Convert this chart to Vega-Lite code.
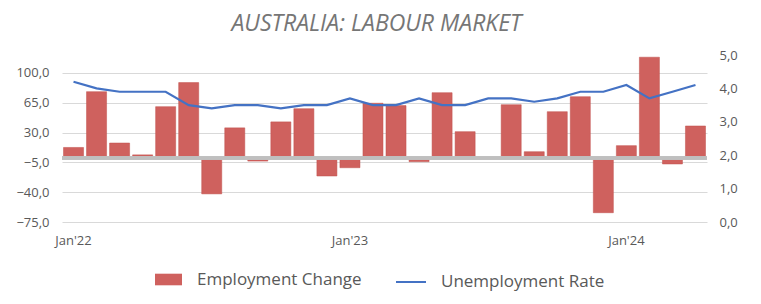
{
  "$schema": "https://vega.github.io/schema/vega-lite/v6.json",
  "width": 645,
  "height": 167,
  "autosize": {"type": "none"},
  "padding": {"left": 62, "top": 55, "right": 54, "bottom": 82},
  "config": {
    "locale": {"number": {"decimal": ",", "thousands": ".", "grouping": [3], "currency": ["", ""]}},
    "view": {"stroke": null},
    "font": "Open Sans",
    "axis": {"labelColor": "#595959", "labelFontSize": 13, "labelFont": "Open Sans", "domain": false, "ticks": false, "title": null, "labelOverlap": false}
  },
  "title": {
    "text": "AUSTRALIA: LABOUR MARKET",
    "font": "Open Sans",
    "fontStyle": "italic",
    "fontWeight": "normal",
    "fontSize": 23,
    "color": "#767676",
    "anchor": "middle",
    "dx": -8,
    "offset": 13
  },
  "data": {
    "values": [
      {"m": "Jan'22", "emp": 12.5, "ur": 4.2},
      {"m": "Feb'22", "emp": 78.0, "ur": 4.0},
      {"m": "Mar'22", "emp": 17.7, "ur": 3.9},
      {"m": "Apr'22", "emp": 3.8, "ur": 3.9},
      {"m": "May'22", "emp": 60.4, "ur": 3.9},
      {"m": "Jun'22", "emp": 88.6, "ur": 3.5},
      {"m": "Jul'22", "emp": -42.0, "ur": 3.4},
      {"m": "Aug'22", "emp": 35.5, "ur": 3.5},
      {"m": "Sep'22", "emp": -3.5, "ur": 3.5},
      {"m": "Oct'22", "emp": 42.5, "ur": 3.4},
      {"m": "Nov'22", "emp": 58.0, "ur": 3.5},
      {"m": "Dec'22", "emp": -21.0, "ur": 3.5},
      {"m": "Jan'23", "emp": -11.3, "ur": 3.7},
      {"m": "Feb'23", "emp": 64.4, "ur": 3.5},
      {"m": "Mar'23", "emp": 61.6, "ur": 3.5},
      {"m": "Apr'23", "emp": -4.2, "ur": 3.7},
      {"m": "May'23", "emp": 76.8, "ur": 3.5},
      {"m": "Jun'23", "emp": 31.0, "ur": 3.5},
      {"m": "Jul'23", "emp": 0.0, "ur": 3.7},
      {"m": "Aug'23", "emp": 62.7, "ur": 3.7},
      {"m": "Sep'23", "emp": 7.5, "ur": 3.6},
      {"m": "Oct'23", "emp": 54.5, "ur": 3.7},
      {"m": "Nov'23", "emp": 72.1, "ur": 3.9},
      {"m": "Dec'23", "emp": -64.1, "ur": 3.9},
      {"m": "Jan'24", "emp": 14.6, "ur": 4.1},
      {"m": "Feb'24", "emp": 118.4, "ur": 3.7},
      {"m": "Mar'24", "emp": -6.9, "ur": 3.9},
      {"m": "Apr'24", "emp": 37.7, "ur": 4.1}
    ]
  },
  "encoding": {
    "x": {
      "field": "m",
      "type": "ordinal",
      "sort": null,
      "scale": {"paddingInner": 0.13, "paddingOuter": 0.065},
      "axis": {"values": ["Jan'22", "Jan'23", "Jan'24"], "labelAngle": 0, "labelPadding": 12, "grid": false}
    }
  },
  "layer": [
    {
      "layer": [
        {
          "mark": {"type": "bar", "stroke": "#c0504d", "strokeWidth": 0.5},
          "encoding": {
            "y": {
              "field": "emp",
              "type": "quantitative",
              "scale": {"domain": [-75, 121], "nice": false, "zero": false},
              "axis": {"values": [-75, -40, -5, 30, 65, 100], "format": ".1f", "grid": true, "gridColor": "#d9d9d9", "labelPadding": 13, "labelOverlap": false}
            },
            "fill": {
              "datum": "Employment Change",
              "scale": {"range": ["#cf615e"]},
              "legend": {
                "orient": "none",
                "legendX": 93,
                "legendY": 211,
                "title": null,
                "padding": 0,
                "labelFont": "Open Sans",
                "labelFontSize": 17,
                "labelLimit": 300,
                "labelColor": "#595959",
                "labelOffset": 15,
                "symbolType": "M-1,-0.43H1V0.43H-1Z",
                "symbolSize": 729,
                "symbolStrokeWidth": 0
              }
            }
          }
        },
        {
          "mark": {"type": "rule", "color": "#bfbfbf", "strokeWidth": 2.5},
          "encoding": {
            "y": {
              "datum": 0,
              "type": "quantitative",
              "axis": {"values": [-75, -40, -5, 30, 65, 100], "format": ".1f", "grid": true, "gridColor": "#d9d9d9", "labelPadding": 13, "labelOverlap": false}
            },
            "x": {"value": 0},
            "x2": {"value": 645}
          }
        }
      ]
    },
    {
      "mark": {"type": "line", "strokeWidth": 2.2},
      "encoding": {
        "y": {
          "field": "ur",
          "type": "quantitative",
          "scale": {"domain": [0, 5], "nice": false, "zero": false},
          "axis": {"orient": "right", "values": [0, 1, 2, 3, 4, 5], "format": ".1f", "grid": false, "labelPadding": 12}
        },
        "stroke": {
          "datum": "Unemployment Rate",
          "scale": {"range": ["#4472c4"]},
          "legend": {
            "orient": "none",
            "legendX": 333,
            "legendY": 211,
            "title": null,
            "padding": 0,
            "labelFont": "Open Sans",
            "labelFontSize": 17,
            "labelLimit": 300,
            "labelColor": "#595959",
            "labelOffset": 14,
            "symbolType": "stroke",
            "symbolSize": 900,
            "symbolStrokeWidth": 2
          }
        }
      }
    }
  ],
  "resolve": {"scale": {"y": "independent"}}
}
